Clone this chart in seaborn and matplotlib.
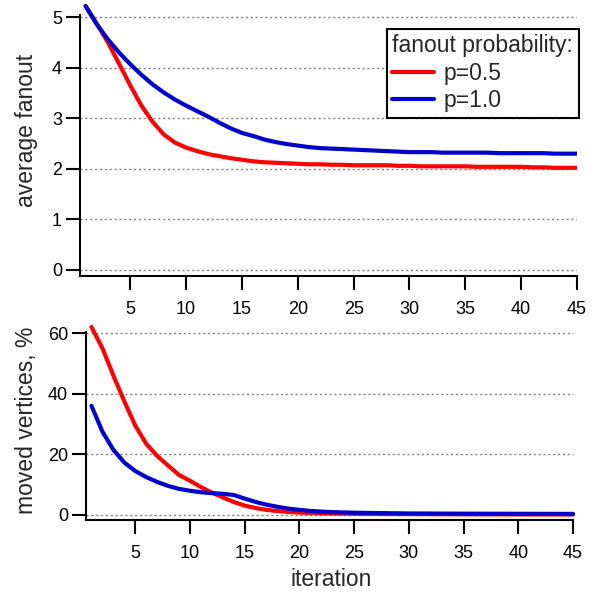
"""
Average fanout and moved vertices per iteration, two fanout probabilities.
"""

import pandas as pd
import matplotlib
matplotlib.use("Agg")
import matplotlib.pyplot as plt
import seaborn as sns

# ── data ────────────────────────────────────────────────────────────────────

iterations = list(range(1, 46))
series_names = ["p=0.5", "p=1.0"]

fanout_p05 = [5.22, 4.87, 4.50, 4.08, 3.65, 3.25, 2.93, 2.68, 2.52, 2.42,
              2.35, 2.29, 2.25, 2.21, 2.18, 2.15, 2.13, 2.12, 2.11, 2.10,
              2.09, 2.09, 2.08, 2.08, 2.07, 2.07, 2.07, 2.07, 2.06, 2.06,
              2.05, 2.05, 2.05, 2.05, 2.05, 2.04, 2.04, 2.04, 2.04, 2.04,
              2.03, 2.03, 2.02, 2.02, 2.02]
fanout_p10 = [5.22, 4.86, 4.56, 4.30, 4.07, 3.86, 3.67, 3.51, 3.37, 3.25,
              3.14, 3.03, 2.91, 2.80, 2.71, 2.65, 2.58, 2.53, 2.49, 2.46,
              2.43, 2.41, 2.40, 2.39, 2.38, 2.37, 2.36, 2.35, 2.34, 2.33,
              2.33, 2.33, 2.32, 2.32, 2.32, 2.32, 2.32, 2.31, 2.31, 2.31,
              2.31, 2.31, 2.30, 2.30, 2.30]

moved_p05 = [62, 55, 46, 37.5, 29.5, 23.5, 19.5, 16.3, 13.2, 11.3,
             9.2, 7.4, 5.8, 4.3, 3.1, 2.3, 1.7, 1.3, 1.0, 0.8,
             0.65, 0.55, 0.5, 0.45, 0.4, 0.38, 0.35, 0.33, 0.3, 0.3,
             0.28, 0.27, 0.26, 0.25, 0.24, 0.23, 0.22, 0.21, 0.2, 0.2,
             0.19, 0.18, 0.18, 0.17, 0.17]
moved_p10 = [36, 27.5, 21.5, 17.3, 14.5, 12.5, 10.9, 9.6, 8.6, 8.0,
             7.5, 7.2, 7.0, 6.6, 5.4, 4.3, 3.4, 2.7, 2.1, 1.7,
             1.35, 1.1, 0.95, 0.85, 0.75, 0.7, 0.65, 0.6, 0.55, 0.5,
             0.5, 0.48, 0.46, 0.45, 0.44, 0.43, 0.42, 0.41, 0.4, 0.4,
             0.39, 0.38, 0.38, 0.37, 0.37]

x_ticks = [5, 10, 15, 20, 25, 30, 35, 40, 45]
fanout_ticks = [0, 1, 2, 3, 4, 5]
moved_ticks = [0, 20, 40, 60]

# long-form tables for seaborn
fanout_df = pd.DataFrame({
    "iteration": iterations * 2,
    "value": fanout_p05 + fanout_p10,
    "series": [series_names[0]] * 45 + [series_names[1]] * 45,
})
moved_df = pd.DataFrame({
    "iteration": iterations * 2,
    "value": moved_p05 + moved_p10,
    "series": [series_names[0]] * 45 + [series_names[1]] * 45,
})

# ── style ───────────────────────────────────────────────────────────────────

sns.set_theme(style="white")
plt.rcParams["font.family"] = ["Liberation Sans", "DejaVu Sans"]
palette = {"p=0.5": "#FF0000", "p=1.0": "#0000CC"}

fig = plt.figure(figsize=(6.02, 5.92), dpi=100)
ax_top = fig.add_axes([80 / 602, 1 - 276 / 592, 497 / 602, 274 / 592])
ax_bot = fig.add_axes([86 / 602, 1 - 520 / 592, 487 / 602, 200 / 592])


def style_axis(ax, yticks, ylo, yhi, spine_top):
    ax.set_xlim(0.5, 45)
    ax.set_ylim(ylo, yhi)
    ax.set_xticks(x_ticks)
    ax.set_yticks(yticks)
    for side in ("top", "right"):
        ax.spines[side].set_visible(False)
    for side in ("left", "bottom"):
        ax.spines[side].set_color("black")
        ax.spines[side].set_linewidth(1.5)
    ax.spines["left"].set_bounds(ylo, spine_top)
    ax.tick_params(axis="both", direction="out", length=10, width=1.5,
                   color="black", labelsize=13, labelcolor="black")
    ax.tick_params(axis="x", pad=8, bottom=True)
    ax.tick_params(axis="y", pad=3, left=True)
    for t in yticks:
        ax.axhline(t, color="#808080", lw=1, ls=(0, (1.5, 2)), zorder=0)


sns.lineplot(data=fanout_df, x="iteration", y="value", hue="series",
             palette=palette, linewidth=3, ax=ax_top, legend=False)
style_axis(ax_top, fanout_ticks, -0.12, 5.3, 5.05)
ax_top.set_xlabel("")
ax_top.set_ylabel("average fanout", fontsize=16.5)
ax_top.yaxis.set_label_coords(-0.0845, 0.533)

handles = [plt.Line2D([], [], color=palette[n], lw=3) for n in series_names]
leg = ax_top.legend(handles, series_names, title="fanout probability:",
                    loc="upper right", bbox_to_anchor=(1.004, 0.903),
                    borderaxespad=0, fontsize=16.5, title_fontsize=16.5,
                    alignment="left", handlelength=1.8, handletextpad=0.45,
                    labelspacing=0.2, borderpad=0.25, fancybox=False,
                    framealpha=1, edgecolor="black")
leg.get_frame().set_linewidth(1.5)

sns.lineplot(data=moved_df, x="iteration", y="value", hue="series",
             palette=palette, linewidth=3, ax=ax_bot, legend=False)
style_axis(ax_bot, moved_ticks, -1.65, 64.3, 60.2)
for line in ax_bot.lines:
    line.set_clip_on(False)
ax_bot.set_xlabel("iteration", fontsize=16.5)
ax_bot.xaxis.set_label_coords(0.503, -0.24)
ax_bot.xaxis.label.set_va("top")
ax_bot.set_ylabel("moved vertices, %", fontsize=16.5)
ax_bot.yaxis.set_label_coords(-0.099, 0.5)

fig.savefig("out.png", dpi=100)
plt.close(fig)
